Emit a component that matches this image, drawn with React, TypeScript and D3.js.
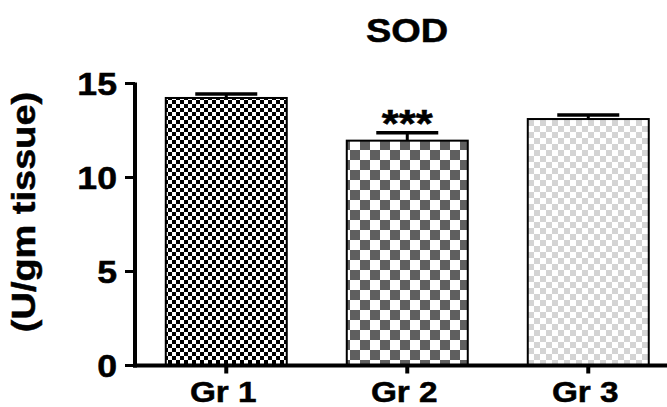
import React from "react";
import * as d3 from "d3";

const categories = ["Gr 1", "Gr 2", "Gr 3"];
const means = [14.23, 11.96, 13.11];
const sems = [0.21, 0.42, 0.21];
const annotations = ["", "***", ""];
const yTicks = [0, 5, 10, 15];

const W = 667;
const H = 407;
const FONT = "'Liberation Sans', Arial, sans-serif";
const SX = 1.15;

const patternDefs = [
  { id: "p1", cell: 4, color: "#000000" },
  { id: "p2", cell: 10, color: "#5f5f5f" },
  { id: "p3", cell: 6, color: "#d4d4d4" },
];

function T(props: {
  x: number;
  y: number;
  size: number;
  anchor?: string;
  rotate?: number;
  dy?: string;
  children: React.ReactNode;
}) {
  const { x, y, size, anchor = "middle", rotate = 0, dy, children } = props;
  return (
    <text
      transform={`translate(${x},${y}) rotate(${rotate}) scale(${SX},1)`}
      textAnchor={anchor}
      fontWeight="bold"
      fontSize={size}
      dy={dy}
      stroke="#000"
      strokeWidth={0.5}
      fill="#000"
    >
      {children}
    </text>
  );
}

export default function App() {
  const x0 = 135;
  const y = d3.scaleLinear().domain([0, 15]).range([365.5, 83.5]);
  const x = d3
    .scaleBand<string>()
    .domain(categories)
    .range([x0, x0 + 181 * (3 - 0.3315 + 2 * 0.17)])
    .paddingInner(0.3315)
    .paddingOuter(0.17);

  const bw = x.bandwidth();

  return (
    <svg
      width={W}
      height={H}
      style={{ position: "absolute", left: 0, top: 0, background: "#fff" }}
      fontFamily={FONT}
    >
      <defs>
        {patternDefs.map((p) => (
          <pattern
            key={p.id}
            id={p.id}
            patternUnits="userSpaceOnUse"
            width={p.cell * 2}
            height={p.cell * 2}
          >
            <rect width={p.cell * 2} height={p.cell * 2} fill="#fff" />
            <rect width={p.cell} height={p.cell} fill={p.color} />
            <rect x={p.cell} y={p.cell} width={p.cell} height={p.cell} fill={p.color} />
          </pattern>
        ))}
      </defs>

      <T x={407} y={42} size={33}>
        SOD
      </T>

      {/* bars */}
      {categories.map((c, i) => {
        const bx = x(c)!;
        const top = y(means[i]);
        const cx = bx + bw / 2;
        const et = y(means[i] + sems[i]);
        return (
          <g key={c}>
            <line x1={cx} x2={cx} y1={top} y2={et} stroke="#000" strokeWidth={3} />
            <line x1={cx - 31} x2={cx + 31} y1={et} y2={et} stroke="#000" strokeWidth={3.5} />
            <rect
              x={bx}
              y={top}
              width={bw}
              height={y(0) - top}
              fill={`url(#${patternDefs[i].id})`}
              stroke="#000"
              strokeWidth={2}
            />
            {annotations[i] && (
              <T x={cx} y={et + 4} size={38}>
                {annotations[i]}
              </T>
            )}
          </g>
        );
      })}

      {/* y axis */}
      <line x1={x0} x2={x0} y1={y(15) - 1} y2={y(0) + 2} stroke="#000" strokeWidth={4} />
      {yTicks.map((t) => (
        <g key={t}>
          <line x1={x0 - 10} x2={x0} y1={y(t)} y2={y(t)} stroke="#000" strokeWidth={3} />
          <T x={x0 - 18} y={y(t)} size={31} anchor="end" dy="0.36em">
            {t}
          </T>
        </g>
      ))}

      {/* x axis */}
      <line x1={x0 - 2} x2={W} y1={y(0)} y2={y(0)} stroke="#000" strokeWidth={4} />
      {categories.map((c) => {
        const cx = x(c)! + bw / 2;
        return (
          <g key={c}>
            <line x1={cx} x2={cx} y1={y(0)} y2={y(0) + 8} stroke="#000" strokeWidth={4} />
            <T x={cx - 3} y={402} size={29}>
              {c}
            </T>
          </g>
        );
      })}

      <T x={35} y={212} size={33} rotate={-90}>
        (U/gm tissue)
      </T>
    </svg>
  );
}
